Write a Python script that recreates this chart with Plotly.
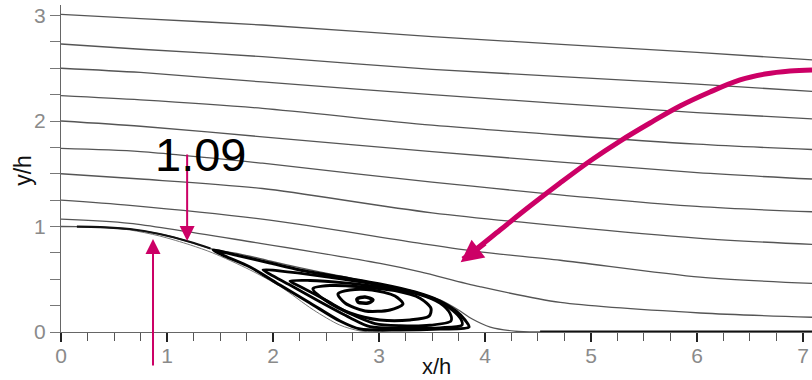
import plotly.graph_objects as go

# ---- streamlines over the hill (x/h, y/h) ----
upper_x = [0.0, 0.75, 1.9, 3.5, 6.0, 7.085]
stream_1 = [3.01, 2.97, 2.91, 2.80, 2.65, 2.58]
stream_2 = [2.73, 2.68, 2.61, 2.49, 2.35, 2.28]
stream_3 = [2.50, 2.46, 2.37, 2.25, 2.08, 2.02]
stream_4 = [2.24, 2.20, 2.12, 1.96, 1.78, 1.73]
stream_5 = [2.00, 1.95, 1.85, 1.71, 1.51, 1.45]
stream_6 = [1.74, 1.71, 1.60, 1.42, 1.19, 1.14]
stream_7 = [1.50, 1.45, 1.36, 1.13, 0.89, 0.83]

stream_8_x = [0.0, 0.65, 1.97, 3.39, 3.95, 4.71, 6.03, 7.085]
stream_8 = [1.25, 1.20, 1.06, 0.84, 0.76, 0.68, 0.52, 0.46]
stream_9_x = [0.0, 0.65, 1.88, 3.01, 3.39, 3.95, 4.71, 6.03, 7.085]
stream_9 = [1.07, 1.03, 0.84, 0.65, 0.57, 0.43, 0.28, 0.18, 0.14]

# hill surface
wall_x = [0.0, 0.37, 0.65, 0.93, 1.22, 1.43, 1.78, 2.07, 2.38, 2.63, 2.82, 3.0]
wall_y = [1.0, 0.995, 0.967, 0.91, 0.825, 0.75, 0.59, 0.43, 0.21, 0.066, 0.01, 0.0]

# dividing streamline: hill top, over the bubble, reattachment and along the floor
div_x = [0.0, 0.15, 0.37, 0.65, 0.93, 1.22, 1.41, 1.69, 1.97, 2.26, 2.63, 3.01, 3.34,
         3.58, 3.75, 3.88, 4.05, 4.28, 4.52, 7.085]
div_y = [1.0, 0.999, 0.995, 0.976, 0.929, 0.853, 0.791, 0.739, 0.673, 0.607, 0.531, 0.455,
         0.379, 0.303, 0.209, 0.123, 0.047, 0.009, 0.0, 0.0]

# closed recirculation loops, outermost first
loop_1_x = [1.434, 1.689, 1.972, 2.255, 2.632, 3.009, 3.340, 3.575, 3.726, 3.811, 3.849,
            3.575, 3.198, 2.821, 2.632, 2.349, 2.066, 1.783, 1.547, 1.434]
loop_1_y = [0.777, 0.720, 0.654, 0.588, 0.521, 0.455, 0.379, 0.294, 0.199, 0.114, 0.047,
            0.028, 0.019, 0.028, 0.104, 0.275, 0.445, 0.616, 0.720, 0.777]
loop_2_x = [1.906, 2.160, 2.538, 2.915, 3.292, 3.557, 3.698, 3.774, 3.783, 3.575, 3.198,
            2.915, 2.726, 2.443, 2.160, 1.972, 1.906]
loop_2_y = [0.590, 0.568, 0.519, 0.462, 0.388, 0.295, 0.203, 0.120, 0.066, 0.040, 0.035,
            0.050, 0.136, 0.287, 0.445, 0.548, 0.590]
loop_3_x = [2.160, 2.349, 2.679, 3.057, 3.387, 3.575, 3.670, 3.679, 3.481, 3.198, 2.962,
            2.726, 2.491, 2.255, 2.160]
loop_3_y = [0.483, 0.488, 0.465, 0.418, 0.355, 0.274, 0.176, 0.104, 0.064, 0.060, 0.080,
            0.175, 0.305, 0.432, 0.483]
loop_4_x = [2.377, 2.538, 2.821, 3.151, 3.387, 3.491, 3.472, 3.292, 3.009, 2.726, 2.491, 2.377]
loop_4_y = [0.410, 0.440, 0.430, 0.392, 0.320, 0.222, 0.150, 0.114, 0.114, 0.180, 0.303, 0.410]
loop_5_x = [2.613, 2.726, 2.934, 3.151, 3.226, 3.104, 2.868, 2.679, 2.613]
loop_5_y = [0.360, 0.398, 0.398, 0.341, 0.265, 0.209, 0.199, 0.275, 0.360]
core_x = [2.792, 2.868, 2.943, 2.896, 2.802, 2.792]
core_y = [0.313, 0.332, 0.303, 0.275, 0.284, 0.313]

# highlighted path
path_x = [7.085, 6.877, 6.642, 6.406, 6.123, 5.840, 5.557, 5.274, 4.991, 4.708,
          4.425, 4.142, 3.906, 3.792]
path_y = [2.483, 2.474, 2.445, 2.389, 2.275, 2.142, 1.981, 1.810, 1.621, 1.412,
          1.194, 0.967, 0.777, 0.692]

x_ticks = [0, 1, 2, 3, 4, 5, 6, 7]
y_ticks = [0, 1, 2, 3]
label_value = "1.09"

MAGENTA = "#cc0066"
GRAY = "#555555"

fig = go.Figure()


def add_line(x, y, color, width, smoothing=0.8):
    fig.add_trace(go.Scatter(
        x=x, y=y, mode="lines",
        line=dict(color=color, width=width, shape="spline", smoothing=smoothing),
        hoverinfo="skip", showlegend=False))


for ys in (stream_1, stream_2, stream_3, stream_4, stream_5, stream_6, stream_7):
    add_line(upper_x, ys, GRAY, 1.3)
add_line(stream_8_x, stream_8, GRAY, 1.3)
add_line(stream_9_x, stream_9, GRAY, 1.3)

add_line(wall_x, wall_y, "#777777", 1.0)
add_line(div_x, div_y, GRAY, 1.3)
# near-wall streamline bundle on the hill top and along the floor
add_line(div_x[1:7], div_y[1:7], "#111111", 2.2)
add_line(div_x[-2:], div_y[-2:], "#111111", 3.0)

for lx, ly, w in ((loop_1_x, loop_1_y, 3.0), (loop_2_x, loop_2_y, 2.8),
                  (loop_3_x, loop_3_y, 2.8), (loop_4_x, loop_4_y, 3.0),
                  (loop_5_x, loop_5_y, 3.0), (core_x, core_y, 3.5)):
    add_line(lx, ly, "#000000", w)

add_line(path_x, path_y, MAGENTA, 5, smoothing=1.0)

annotations = [
    # arrowhead of the curved path
    dict(x=3.77, y=0.66, ax=26, ay=-20, text="",
         showarrow=True, arrowhead=2, arrowsize=1.0, arrowwidth=4.5, arrowcolor=MAGENTA),
    # downward pointer
    dict(x=1.19, y=0.863, ax=0, ay=-88, text="", showarrow=True,
         arrowhead=2, arrowsize=1.5, arrowwidth=2, arrowcolor=MAGENTA),
    # upward pointer
    dict(x=0.868, y=0.882, ax=0, ay=128, text="", showarrow=True,
         arrowhead=2, arrowsize=1.5, arrowwidth=2, arrowcolor=MAGENTA),
    dict(x=1.32, y=1.68, text=label_value, showarrow=False,
         font=dict(family="Liberation Sans, Arial", size=47, color="#000000")),
    dict(x=0.5, y=-0.107, xref="paper", yref="paper", text="x/h", showarrow=False,
         xanchor="center", yanchor="middle",
         font=dict(family="Liberation Sans, Arial", size=22, color="#111111")),
    dict(x=-0.051, y=0.495, xref="paper", yref="paper", text="y/h", showarrow=False,
         textangle=-90, xanchor="center", yanchor="middle",
         font=dict(family="Liberation Sans, Arial", size=23, color="#111111")),
]

fig.update_layout(
    width=812, height=380,
    margin=dict(l=61, r=0, t=5, b=48),
    paper_bgcolor="white", plot_bgcolor="white",
    annotations=annotations,
    xaxis=dict(
        range=[0, 7.085], tickvals=x_ticks, showgrid=False, zeroline=False,
        showline=True, linecolor="#666666", linewidth=1, layer="below traces",
        ticks="outside", ticklen=9, tickwidth=2, tickcolor="#222222",
        ticklabelstandoff=-4,
        tickfont=dict(family="Liberation Sans, Arial", size=21, color="#8a8a8a"),
        minor=dict(dtick=0.25, ticks="outside", ticklen=8, tickwidth=1, tickcolor="#555555"),
    ),
    yaxis=dict(
        range=[0, 3.0995], tickvals=y_ticks, showgrid=False, zeroline=False,
        showline=True, linecolor="#666666", linewidth=1, layer="below traces",
        ticks="outside", ticklen=10, tickwidth=1, tickcolor="#777777",
        tickfont=dict(family="Liberation Sans, Arial", size=21, color="#8a8a8a"),
        minor=dict(dtick=0.25, ticks="outside", ticklen=10, tickwidth=1, tickcolor="#777777"),
    ),
)

fig.write_html("out.html")
